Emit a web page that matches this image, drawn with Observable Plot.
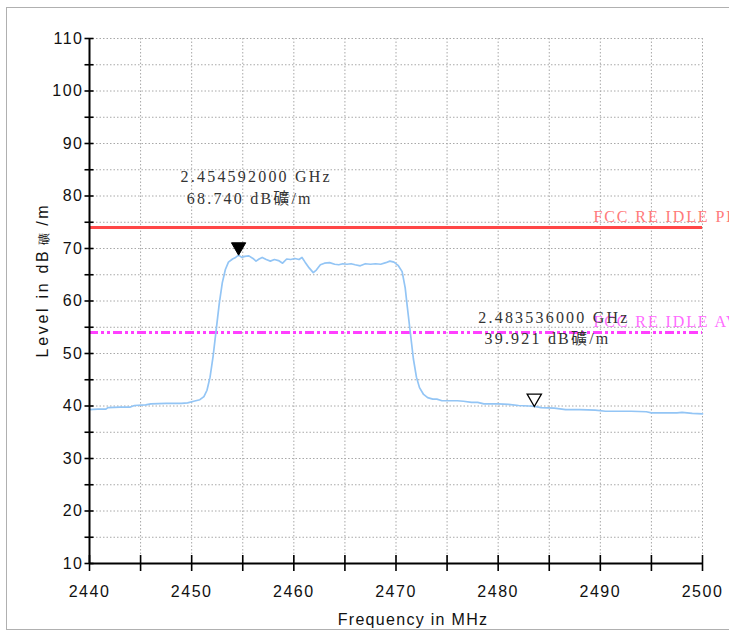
<!DOCTYPE html>
<html>
<head>
<meta charset="utf-8">
<script src="https://cdn.jsdelivr.net/npm/d3@7"></script>
<script src="https://cdn.jsdelivr.net/npm/@observablehq/plot@0.6"></script>
<style>
  html, body { margin: 0; padding: 0; background: #fff; overflow: hidden; }
  #wrap { position: relative; width: 729px; height: 633px; overflow: hidden; }
  #border { position: absolute; left: 6px; top: 7px; width: 800px; height: 623px; border: 1px solid #b0b0b0; box-sizing: border-box; }
  #chart { position: absolute; left: 0; top: 0; }
  #chart svg { overflow: visible; }
</style>
</head>
<body>
<div id="wrap"><div id="border"></div><div id="chart"></div></div>
<script>
// ---- data ----
const freqMHz = [2440.0,2440.8,2441.6,2441.8,2443.0,2444.0,2444.4,2445.5,2446.0,2447.5,2449.0,2449.6,2450.2,2450.8,2451.2,2451.5,2451.8,2452.1,2452.4,2452.7,2453.0,2453.3,2453.6,2454.0,2454.3,2454.59,2454.9,2455.2,2455.6,2456.0,2456.3,2456.6,2456.9,2457.3,2457.7,2458.1,2458.5,2458.9,2459.3,2459.7,2460.1,2460.5,2460.8,2461.1,2461.5,2461.9,2462.2,2462.6,2463.0,2463.5,2464.0,2464.4,2464.8,2465.2,2465.6,2466.0,2466.5,2467.0,2467.5,2468.0,2468.5,2469.0,2469.4,2469.8,2470.2,2470.6,2470.9,2471.1,2471.4,2471.7,2472.0,2472.3,2472.7,2473.1,2473.6,2474.0,2474.5,2475.0,2476.0,2476.6,2477.4,2478.0,2478.6,2480.0,2481.0,2482.0,2483.0,2483.536,2484.2,2485.5,2486.6,2488.0,2489.5,2490.5,2491.0,2493.0,2494.5,2495.0,2497.5,2498.0,2499.0,2500.0];
const levelDb = [39.3,39.4,39.4,39.7,39.8,39.8,40.1,40.2,40.4,40.5,40.5,40.6,40.9,41.2,41.8,43.0,45.5,49.5,54.5,59.5,63.5,66.0,67.4,68.0,68.3,68.74,68.3,68.5,68.6,68.1,67.6,68.0,68.3,67.9,67.6,67.9,67.7,67.2,68.0,67.9,68.1,67.9,68.3,67.4,66.3,65.4,65.9,66.9,67.2,67.3,67.0,66.9,67.1,67.0,67.1,66.9,66.7,67.1,67.0,67.1,67.0,67.3,67.6,67.4,66.8,65.6,62.5,59.0,54.0,49.0,45.5,43.5,42.2,41.6,41.3,41.3,41.0,41.0,41.0,40.9,40.7,40.7,40.4,40.4,40.3,40.1,40.0,39.921,39.7,39.6,39.3,39.3,39.2,39.0,39.0,39.0,38.9,38.7,38.7,38.8,38.6,38.5];

const limitNames = ["FCC RE IDLE PK", "FCC RE IDLE AV"];
const limitLevels = [74, 54];

const markerFreqGHz = ["2.454592000", "2.483536000"];
const markerFreqs = [2454.592, 2483.536];
const markerLevels = [68.740, 39.921];

const xTickLabels = [2440, 2450, 2460, 2470, 2480, 2490, 2500];
const xMinorTicks = [2440, 2445, 2450, 2455, 2460, 2465, 2470, 2475, 2480, 2485, 2490, 2495, 2500];
const yTickLabels = [10, 20, 30, 40, 50, 60, 70, 80, 90, 100, 110];
const yMinorTicks = [10, 15, 20, 25, 30, 35, 40, 45, 50, 55, 60, 65, 70, 75, 80, 85, 90, 95, 100, 105, 110];

const xTitle = "Frequency in MHz";
const yTitleParts = ["Level in dB", "礦", "/m"];
const yTitle = yTitleParts.join("");
const unitText = "dB礦/m";

// ---- derived tables ----
const trace = freqMHz.map((f, i) => ({f, l: levelDb[i]}));
const limits = limitNames.map((name, i) => ({name, level: limitLevels[i]}));
const markers = markerFreqs.map((f, i) => ({
  f, l: markerLevels[i],
  text: `${markerFreqGHz[i]} GHz\n ${markerLevels[i].toFixed(3)} ${unitText}`
}));

const gridStyle = {stroke: "#a8a8a8", strokeOpacity: 1, strokeDasharray: "1.5,2", strokeWidth: 1};
const serif = "'Liberation Serif', 'Noto Sans CJK JP', serif";

const plot = Plot.plot({
  width: 729,
  height: 633,
  marginLeft: 89,
  marginRight: 27,
  marginTop: 38,
  marginBottom: 70,
  style: {background: "transparent", fontFamily: "'Liberation Sans', Arial, sans-serif", fontSize: "16px", color: "#111"},
  x: {domain: [xMinorTicks[0], xMinorTicks[xMinorTicks.length - 1]]},
  y: {domain: [yMinorTicks[0], yMinorTicks[yMinorTicks.length - 1]]},
  marks: [
    Plot.gridX({ticks: xMinorTicks, ...gridStyle}),
    Plot.gridY({ticks: yMinorTicks, ...gridStyle}),
    // limit lines
    Plot.ruleY([limits[0]], {y: "level", stroke: "#ff4747", strokeWidth: 3}),
    Plot.ruleY([limits[1]], {y: "level", stroke: "#ff40ff", strokeWidth: 3, strokeDasharray: "9,3,3,3,3,3"}),
    Plot.text([limits[0]], {y: "level", text: "name", frameAnchor: "right", dx: -109, dy: -11, textAnchor: "start", fill: "#ff7a7a", fontFamily: serif, fontSize: 16}),
    Plot.text([limits[1]], {y: "level", text: "name", frameAnchor: "right", dx: -109, dy: -11, textAnchor: "start", fill: "#ff6cff", fontFamily: serif, fontSize: 16}),
    // trace
    Plot.line(trace, {x: "f", y: "l", stroke: "#93c5f5", strokeWidth: 1.7}),
    // axes lines
    Plot.ruleX([xMinorTicks[0]], {stroke: "#000", strokeWidth: 2}),
    Plot.ruleY([yMinorTicks[0]], {stroke: "#000", strokeWidth: 2}),
    // crossing ticks
    Plot.axisX({ticks: xMinorTicks, tickSize: 16, dy: -8, tickFormat: () => "", label: null, strokeWidth: 1.6, stroke: "#000"}),
    Plot.axisY({ticks: yMinorTicks, tickSize: 9, dx: 4.5, tickFormat: () => "", label: null, strokeWidth: 1.6, stroke: "#000"}),
    // tick labels
    Plot.axisX({ticks: xTickLabels, tickSize: 0, tickPadding: 22, tickFormat: d => String(d), label: null, fontSize: 16}),
    Plot.axisY({ticks: yTickLabels, tickSize: 0, tickPadding: 6, tickFormat: d => String(d), label: null, fontSize: 16}),
    // axis titles
    Plot.text([xTitle], {text: d => d, frameAnchor: "bottom", textAnchor: "middle", dx: 17, dy: 61, fontSize: 16, fill: "#111"}),
    Plot.text([yTitle], {text: d => d, frameAnchor: "left", textAnchor: "middle", dx: -47, dy: -21, rotate: -90, fontSize: 16, fill: "#111"}),
    // markers
    Plot.dot([markers[0]], {x: "f", y: "l", symbol: "triangle", rotate: 180, r: 5.3, dy: -8.2, fill: "#000", stroke: "#000", strokeWidth: 1}),
    Plot.dot([markers[1]], {x: "f", y: "l", symbol: "triangle", rotate: 180, r: 5.3, dy: -8.2, fill: "#fff", stroke: "#000", strokeWidth: 1.3}),
    Plot.text([markers[0]], {x: "f", y: "l", text: "text", textAnchor: "start", lineAnchor: "top", dx: -58, dy: -88, lineHeight: 1.35, fill: "#333", fontFamily: serif, fontSize: 16}),
    Plot.text([markers[1]], {x: "f", y: "l", text: "text", textAnchor: "start", lineAnchor: "top", dx: -56, dy: -99, lineHeight: 1.35, fill: "#333", fontFamily: serif, fontSize: 16})
  ]
});

// letter spacing, as in the reference
const spacingFor = (s) => {
  if (limitNames.includes(s)) return "1.9px";
  if (s === xTitle) return "1.3px";
  if (s === yTitle) return "2.7px";
  if (/GHz|dB礦\/m/.test(s)) return "2.2px";
  if (/^\d+$/.test(s)) return "1.5px";
  return null;
};
plot.querySelectorAll("text").forEach(t => {
  const own = t.querySelectorAll("tspan");
  const sp = spacingFor(t.textContent.trim()) || (own.length ? spacingFor(own[0].textContent.trim()) : null);
  if (sp) t.style.letterSpacing = sp;
  // the CJK glyph in the y-axis title is drawn small in the reference
  if (t.textContent.trim() === yTitle) {
    t.textContent = "";
    yTitleParts.forEach((part, i) => {
      const ts = document.createElementNS("http://www.w3.org/2000/svg", "tspan");
      ts.textContent = part;
      if (i === 1) { ts.setAttribute("font-size", "12"); ts.setAttribute("dx", "4"); }
      if (i === 2) { ts.setAttribute("dx", "4"); }
      t.appendChild(ts);
    });
  }
});
document.getElementById("chart").appendChild(plot);
</script>
</body>
</html>
